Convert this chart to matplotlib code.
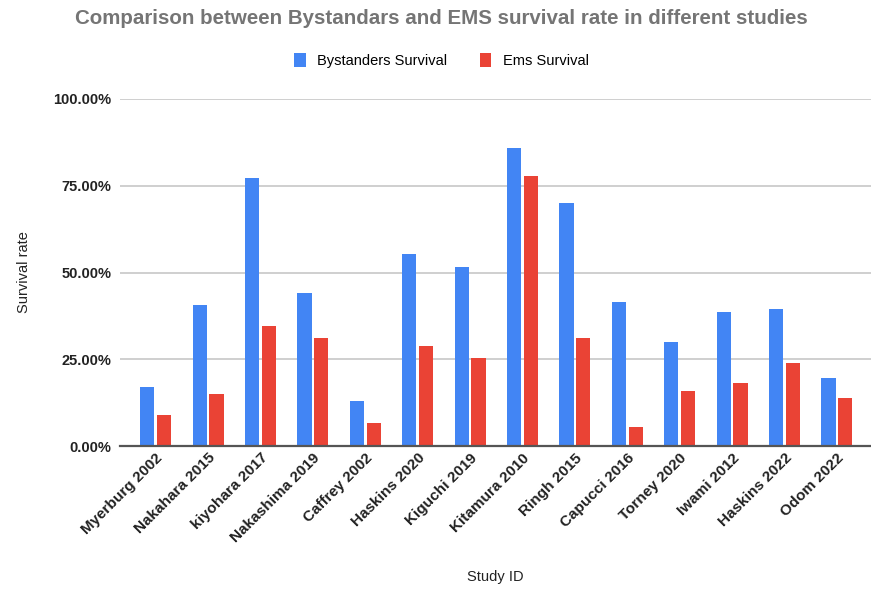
import matplotlib.pyplot as plt
import numpy as np
from matplotlib.ticker import FuncFormatter

plt.rcParams['font.family'] = ['Liberation Sans', 'DejaVu Sans']

studies = ['Myerburg 2002', 'Nakahara 2015', 'kiyohara 2017', 'Nakashima 2019',
           'Caffrey 2002', 'Haskins 2020', 'Kiguchi 2019', 'Kitamura 2010',
           'Ringh 2015', 'Capucci 2016', 'Torney 2020', 'Iwami 2012',
           'Haskins 2022', 'Odom 2022']
bystanders = [17.1, 40.5, 77.1, 44.0, 12.9, 55.4, 51.7, 86.0, 70.1, 41.4, 29.9, 38.5, 39.5, 19.6]
ems = [8.9, 14.9, 34.7, 31.1, 6.7, 28.8, 25.5, 77.9, 31.1, 5.5, 15.9, 18.1, 24.0, 13.7]

blue = '#4285F4'
red = '#EA4335'

fig = plt.figure(figsize=(8.71, 5.90), dpi=100)
ax = fig.add_axes([120/871, 1-446/590, 751/871, 347/590])

x = np.arange(len(studies))
w = 0.27
ax.bar(x - 0.16, bystanders, w, color=blue, label='Bystanders Survival', zorder=3)
ax.bar(x + 0.16, ems, w, color=red, label='Ems Survival', zorder=3)

ax.set_xlim(-0.68, len(studies) - 0.35)
ax.set_ylim(0, 100)
ax.set_yticks([0, 25, 50, 75, 100])
ax.yaxis.set_major_formatter(FuncFormatter(lambda v, p: '%.2f%%' % v))
ax.grid(axis='y', color='#cccccc', linewidth=1.3, zorder=0)
for s in ['top', 'right', 'left']:
    ax.spines[s].set_visible(False)
ax.spines['bottom'].set_color('#555555')
ax.spines['bottom'].set_linewidth(1.6)
ax.spines['bottom'].set_zorder(4)
ax.tick_params(axis='both', length=0)
ax.tick_params(axis='y', pad=6)

ax.set_xticks(x)
ax.set_xticklabels(studies, rotation=45, ha='right', rotation_mode='anchor',
                   fontsize=11, fontweight='bold', color='#222222')
for lab in ax.get_yticklabels():
    lab.set_fontweight('bold')
    lab.set_fontsize(10.5)
    lab.set_color('#222222')

ax.set_ylabel('Survival rate', fontsize=10.5, color='#222222', labelpad=16)
ax.set_xlabel('Study ID', fontsize=10.5, color='#222222', labelpad=18)

fig.text(0.507, 0.968, 'Comparison between Bystandars and EMS survival rate in different studies',
         ha='center', va='center', fontsize=14.8, fontweight='bold', color='#757575')
fig.legend(loc='center', bbox_to_anchor=(0.507, 0.898), ncol=2, frameon=False,
           fontsize=10.5, handlelength=0.8, handleheight=1.1, columnspacing=2.2,
           handletextpad=0.8)

fig.savefig('out.png', dpi=100)
